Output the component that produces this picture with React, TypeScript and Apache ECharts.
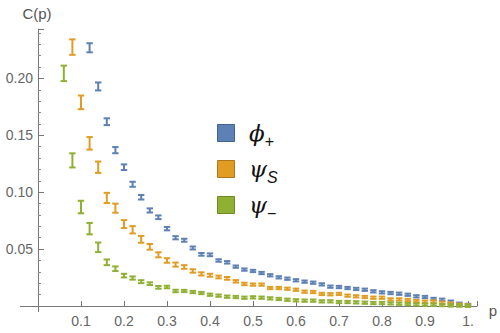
import React, { useEffect, useRef } from "react";
import * as echarts from "echarts";

const P = [0.06, 0.08, 0.1, 0.12, 0.14, 0.16, 0.18, 0.2, 0.22, 0.24, 0.26, 0.28, 0.3, 0.32, 0.34, 0.36, 0.38, 0.4, 0.42, 0.44, 0.46, 0.48, 0.5, 0.52, 0.54, 0.56, 0.58, 0.6, 0.62, 0.64, 0.66, 0.68, 0.7, 0.72, 0.74, 0.76, 0.78, 0.8, 0.82, 0.84, 0.86, 0.88, 0.9, 0.92, 0.94, 0.96, 0.98, 1.0];

const phiPlus = [null, null, null, 0.227, 0.193, 0.162, 0.137, 0.122, 0.107, 0.0956, 0.084, 0.078, 0.068, 0.06, 0.0578, 0.051, 0.0454, 0.045, 0.04, 0.0384, 0.0346, 0.032, 0.0308, 0.029, 0.027, 0.0252, 0.024, 0.0226, 0.0214, 0.0205, 0.019, 0.017, 0.0167, 0.0158, 0.015, 0.0143, 0.0129, 0.012, 0.0114, 0.0108, 0.0099, 0.0085, 0.0079, 0.0062, 0.0055, 0.0038, 0.002, 0.001];
const phiPlusErr = [0, 0, 0, 0.004, 0.0035, 0.003, 0.0027, 0.0025, 0.0022, 0.002, 0.0018, 0.0016, 0.0015, 0.0014, 0.0013, 0.0013, 0.0012, 0.0012, 0.0011, 0.0011, 0.001, 0.001, 0.001, 0.001, 0.001, 0.001, 0.001, 0.001, 0.001, 0.001, 0.001, 0.001, 0.001, 0.001, 0.001, 0.001, 0.001, 0.001, 0.001, 0.001, 0.001, 0.001, 0.001, 0.001, 0.001, 0.001, 0.001, 0.001];

const psiS = [null, 0.2276, 0.179, 0.143, 0.122, 0.095, 0.086, 0.072, 0.067, 0.0586, 0.052, 0.045, 0.04, 0.0364, 0.0343, 0.0308, 0.0282, 0.027, 0.0255, 0.0243, 0.0217, 0.0194, 0.0188, 0.0188, 0.0158, 0.0158, 0.0152, 0.0143, 0.0126, 0.0123, 0.0106, 0.0103, 0.0106, 0.0091, 0.0085, 0.0079, 0.0073, 0.0073, 0.0058, 0.0058, 0.0053, 0.0044, 0.0038, 0.004, 0.0029, 0.002, 0.0011, 0.0005];
const psiSErr = [0, 0.0068, 0.006, 0.0055, 0.005, 0.0045, 0.004, 0.0035, 0.0032, 0.003, 0.0025, 0.0022, 0.002, 0.0018, 0.0016, 0.0015, 0.0014, 0.0013, 0.0012, 0.0012, 0.0011, 0.0011, 0.001, 0.001, 0.001, 0.001, 0.001, 0.001, 0.001, 0.001, 0.001, 0.001, 0.001, 0.001, 0.001, 0.001, 0.001, 0.001, 0.001, 0.001, 0.001, 0.001, 0.001, 0.001, 0.001, 0.001, 0.001, 0.001];

const psiMinus = [0.2045, 0.128, 0.087, 0.068, 0.0516, 0.0384, 0.0328, 0.0267, 0.0246, 0.0214, 0.0196, 0.0164, 0.0167, 0.0132, 0.0132, 0.0123, 0.0114, 0.0099, 0.0091, 0.0082, 0.0079, 0.0073, 0.0076, 0.0073, 0.0067, 0.0062, 0.0055, 0.005, 0.0047, 0.0047, 0.0041, 0.0041, 0.0035, 0.0035, 0.0032, 0.0029, 0.0026, 0.0026, 0.0023, 0.002, 0.0017, 0.0014, 0.0011, 0.0011, 0.0008, 0.0005, 0.0003, 0.0002];
const psiMinusErr = [0.0068, 0.0062, 0.0055, 0.005, 0.0042, 0.0025, 0.002, 0.0016, 0.0014, 0.0013, 0.0012, 0.0012, 0.0011, 0.0011, 0.001, 0.001, 0.001, 0.001, 0.001, 0.001, 0.001, 0.001, 0.001, 0.001, 0.001, 0.001, 0.001, 0.001, 0.001, 0.001, 0.001, 0.001, 0.001, 0.001, 0.001, 0.001, 0.001, 0.001, 0.001, 0.001, 0.001, 0.001, 0.001, 0.001, 0.001, 0.001, 0.001, 0.001];

const SERIES = [
  { name: "phi+", values: phiPlus, errs: phiPlusErr, color: "#5e81b5", border: "#44628f", base: "ϕ", sub: "+" },
  { name: "psiS", values: psiS, errs: psiSErr, color: "#e19c24", border: "#b0771a", base: "ψ", sub: "S" },
  { name: "psi-", values: psiMinus, errs: psiMinusErr, color: "#8fb032", border: "#6c8a24", base: "ψ", sub: "−" },
];

const X_TICKS = [0.1, 0.2, 0.3, 0.4, 0.5, 0.6, 0.7, 0.8, 0.9, 1.0];
const X_LABELS = ["0.1", "0.2", "0.3", "0.4", "0.5", "0.6", "0.7", "0.8", "0.9", "1."];
const Y_TICKS = [0.05, 0.1, 0.15, 0.2];
const Y_LABELS = ["0.05", "0.10", "0.15", "0.20"];

export default function App() {
  const ref = useRef<HTMLDivElement>(null);
  useEffect(() => {
    const chart = echarts.init(ref.current!, undefined, { renderer: "svg" });
    const font = "'Liberation Sans', Arial, sans-serif";
    const series: any[] = SERIES.map((s) => ({
      type: "custom",
      name: s.name,
      data: P.map((p, i) => (s.values[i] == null ? null : [p, s.values[i], s.errs[i]])).filter((d) => d),
      renderItem: (params: any, api: any) => {
        const x = api.value(0);
        const v = api.value(1);
        const e = api.value(2);
        const lo = api.coord([x, v - e]);
        const hi = api.coord([x, v + e]);
        const hw = 3.2;
        const st = { stroke: s.color, lineWidth: 2 };
        return {
          type: "group",
          children: [
            { type: "line", shape: { x1: lo[0], y1: lo[1], x2: hi[0], y2: hi[1] }, style: st },
            { type: "line", shape: { x1: lo[0] - hw, y1: lo[1], x2: lo[0] + hw, y2: lo[1] }, style: st },
            { type: "line", shape: { x1: hi[0] - hw, y1: hi[1], x2: hi[0] + hw, y2: hi[1] }, style: st },
          ],
        };
      },
    }));

    const legend: any[] = [];
    SERIES.forEach((s, i) => {
      const y = 124 + i * 36;
      legend.push({
        type: "rect",
        shape: { x: 217.5, y: y + 0.5, width: 17, height: 17 },
        style: { fill: s.color, stroke: s.border, lineWidth: 1 },
      });
      legend.push({
        type: "text",
        x: 249,
        y: y + 9,
        style: {
          text: `{a|${s.base}}{b|${s.sub}}`,
          verticalAlign: "middle",
          rich: {
            a: { fontSize: 23, fontStyle: "italic", fontFamily: "'DejaVu Serif', serif", fill: "#111", verticalAlign: "bottom" },
            b: { fontSize: 16, fontStyle: s.sub === "S" ? "italic" : "normal", fontFamily: font, fill: "#111", verticalAlign: "bottom", padding: [0, 0, -5, 0] },
          },
        },
      });
    });

    chart.setOption({
      animation: false,
      grid: { left: 38, right: 23, top: 29, bottom: 27 },
      xAxis: {
        type: "value",
        min: 0,
        max: 1.021,
        interval: 0.1,
        axisLine: { show: true, onZero: false, lineStyle: { color: "#777", width: 1 } },
        axisTick: { show: true, inside: true, length: 5, lineStyle: { color: "#777" } },
        splitLine: { show: false },
        axisLabel: {
          color: "#666",
          fontSize: 14,
          fontFamily: font,
          margin: 8,
          showMaxLabel: true,
          formatter: (v: number) => {
            const i = X_TICKS.findIndex((t) => Math.abs(t - v) < 1e-6);
            return i >= 0 ? X_LABELS[i] : "";
          },
        },
      },
      yAxis: {
        type: "value",
        min: 0,
        max: 0.2435,
        interval: 0.05,
        axisLine: { show: true, onZero: false, lineStyle: { color: "#777", width: 1 } },
        axisTick: { show: true, inside: true, length: 6, lineStyle: { color: "#777" } },
        minorTick: { show: true, splitNumber: 5, length: 3, lineStyle: { color: "#888" } },
        splitLine: { show: false },
        axisLabel: {
          color: "#666",
          fontSize: 14,
          fontFamily: font,
          margin: 5,
          formatter: (v: number) => {
            const i = Y_TICKS.findIndex((t) => Math.abs(t - v) < 1e-6);
            return i >= 0 ? Y_LABELS[i] : "";
          },
        },
      },
      graphic: [
        { type: "line", shape: { x1: 20, y1: 306.5, x2: 38, y2: 306.5 }, style: { stroke: "#777", lineWidth: 1 } },
        { type: "line", shape: { x1: 38.5, y1: 306, x2: 38.5, y2: 312 }, style: { stroke: "#777", lineWidth: 1 } },
        { type: "text", x: 37, y: 13, style: { text: "C(p)", fontSize: 15, fontFamily: font, fill: "#555", align: "center", verticalAlign: "middle" } },
        { type: "text", x: 493, y: 310, style: { text: "p", fontSize: 15, fontFamily: font, fill: "#555", align: "center", verticalAlign: "middle" } },
        ...legend,
      ],
      series,
    });
    return () => chart.dispose();
  }, []);
  return <div ref={ref} style={{ width: 500, height: 333, position: "absolute", left: 0, top: 0 }} />;
}
